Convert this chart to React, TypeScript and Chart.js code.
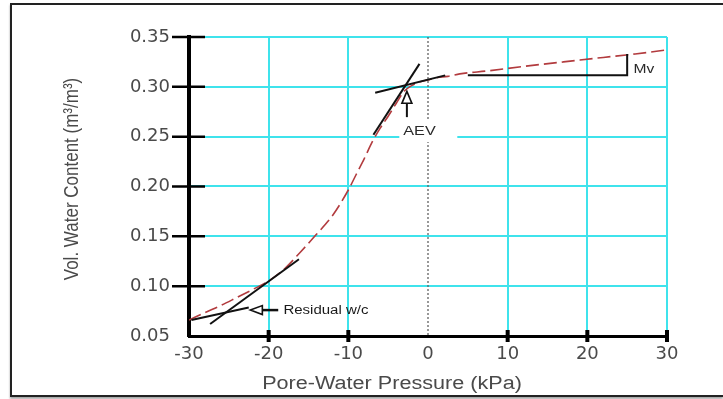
import React, { useEffect, useRef } from "react";
import { Chart, registerables } from "chart.js";

Chart.register(...registerables);

// Soil-water characteristic curve (pore-water pressure in kPa vs volumetric water content)
const pressure = [-30, -28, -26, -24, -22, -20, -18, -16, -14, -12, -10, -9, -8, -7, -6, -5, -4, -3, -2, -1, 0, 1, 2.5, 4, 7.5, 12, 17, 22, 26, 30];
const waterContent = [0.066, 0.0735, 0.0806, 0.0886, 0.0967, 0.1052, 0.1175, 0.1343, 0.152, 0.1707, 0.1965, 0.2123, 0.228, 0.2447, 0.2585, 0.2705, 0.2833, 0.2955, 0.3015, 0.305, 0.307, 0.309, 0.3105, 0.313, 0.316, 0.3205, 0.325, 0.3295, 0.333, 0.337];

const xTicks = [-30, -20, -10, 0, 10, 20, 30];
const yTicks = [0.05, 0.1, 0.15, 0.2, 0.25, 0.3, 0.35];

// Construction lines
const residualSteepX = [-27.35, -16.2];
const residualSteepY = [0.062, 0.127];
const residualFlatX = [-29.7, -22.5];
const residualFlatY = [0.066, 0.0785];
const aevSteepX = [-6.85, -1.07];
const aevSteepY = [0.252, 0.323];
const aevFlatX = [-6.63, 2.16];
const aevFlatY = [0.294, 0.3115];
const mvX = [5, 25, 25];
const mvY = [0.3115, 0.3115, 0.333];

// Arrows (tip / tail in data units)
const residualArrow = { tipX: -22.3, tailX: -18.8, y: 0.076 };
const aevArrow = { x: -2.65, tipY: 0.2955, tailY: 0.2696 };

// Annotation labels
const labelTexts = ["Residual w/c", "AEV", "Mv"];
const labelX = [-18.15, -3.1, 25.8];
const labelY = [0.076, 0.2556, 0.3175];

const xTitle = "Pore-Water Pressure (kPa)";
const yTitle = "Vol. Water Content (m³/m³)";

const zip = (xs: number[], ys: number[]) => xs.map((x, i) => ({ x, y: ys[i] }));

function drawStretched(ctx: CanvasRenderingContext2D, text: string, x: number, y: number, font: string, color: string, align: CanvasTextAlign, baseline: CanvasTextBaseline, sx: number) {
  ctx.save();
  ctx.font = font;
  ctx.fillStyle = color;
  ctx.textAlign = align;
  ctx.textBaseline = baseline;
  ctx.translate(x, y);
  ctx.scale(sx, 1);
  ctx.fillText(text, 0, 0);
  ctx.restore();
}

const overlayPlugin = {
  id: "overlay",
  beforeDatasetsDraw(chart: any) {
    const { ctx, chartArea, scales } = chart;
    const px = scales.x.getPixelForValue(0);
    ctx.save();
    ctx.strokeStyle = "#555";
    ctx.lineWidth = 1.2;
    ctx.setLineDash([2, 2]);
    ctx.beginPath();
    ctx.moveTo(px, chartArea.top);
    ctx.lineTo(px, chartArea.bottom);
    ctx.stroke();
    ctx.restore();
  },
  afterDatasetsDraw(chart: any) {
    const { ctx, scales } = chart;
    const x = scales.x;
    const y = scales.y;
    ctx.save();
    // AEV label background box
    const ax = x.getPixelForValue(labelX[1]);
    const ay = y.getPixelForValue(labelY[1]);
    ctx.fillStyle = "#fff";
    ctx.fillRect(ax - 4, ay - 11, 58, 22);

    // Residual arrow
    const tip = x.getPixelForValue(residualArrow.tipX);
    const tail = x.getPixelForValue(residualArrow.tailX);
    const ry = y.getPixelForValue(residualArrow.y);
    ctx.strokeStyle = "#111";
    ctx.lineWidth = 2.5;
    ctx.beginPath();
    ctx.moveTo(tip + 12, ry);
    ctx.lineTo(tail, ry);
    ctx.stroke();
    ctx.lineWidth = 1.6;
    ctx.fillStyle = "#fff";
    ctx.beginPath();
    ctx.moveTo(tip, ry);
    ctx.lineTo(tip + 12, ry - 4.5);
    ctx.lineTo(tip + 12, ry + 4.5);
    ctx.closePath();
    ctx.fill();
    ctx.stroke();

    // AEV arrow
    const vx = x.getPixelForValue(aevArrow.x);
    const vtip = y.getPixelForValue(aevArrow.tipY);
    const vtail = y.getPixelForValue(aevArrow.tailY);
    ctx.lineWidth = 2;
    ctx.beginPath();
    ctx.moveTo(vx, vtip + 12);
    ctx.lineTo(vx, vtail);
    ctx.stroke();
    ctx.lineWidth = 1.6;
    ctx.beginPath();
    ctx.moveTo(vx, vtip);
    ctx.lineTo(vx - 5, vtip + 12);
    ctx.lineTo(vx + 5, vtip + 12);
    ctx.closePath();
    ctx.fill();
    ctx.stroke();
    ctx.restore();

    // Labels
    drawStretched(ctx, labelTexts[0], x.getPixelForValue(labelX[0]), y.getPixelForValue(labelY[0]), '12.5px "Liberation Sans"', "#1a1a1a", "left", "middle", 1.2);
    drawStretched(ctx, labelTexts[1], ax, ay, '13.5px "Liberation Sans"', "#2a2a2a", "left", "middle", 1.2);
    drawStretched(ctx, labelTexts[2], x.getPixelForValue(labelX[2]), y.getPixelForValue(labelY[2]), '13px "Liberation Sans"', "#2a2a2a", "left", "middle", 1.2);
  },
  afterDraw(chart: any) {
    const { ctx, chartArea, scales } = chart;
    const x = scales.x;
    const y = scales.y;
    ctx.save();
    ctx.strokeStyle = "#000";
    ctx.lineWidth = 2.5;
    yTicks.forEach((v) => {
      if (v === yTicks[0]) return;
      const py = y.getPixelForValue(v);
      ctx.beginPath();
      ctx.moveTo(chartArea.left - 17, py);
      ctx.lineTo(chartArea.left + 16, py);
      ctx.stroke();
    });
    ctx.lineWidth = 4;
    xTicks.forEach((v) => {
      if (v === xTicks[0] || v === 0) return;
      const px = x.getPixelForValue(v);
      ctx.beginPath();
      ctx.moveTo(px, chartArea.bottom - 6);
      ctx.lineTo(px, chartArea.bottom + 6);
      ctx.stroke();
    });
    ctx.restore();

    // Axis titles
    drawStretched(ctx, xTitle, 392, 389, '18px "Liberation Sans"', "#4a4a4a", "center", "alphabetic", 1.2);
    ctx.save();
    ctx.translate(78, 179);
    ctx.rotate(-Math.PI / 2);
    ctx.scale(1, 1.2);
    ctx.font = '17px "Liberation Sans"';
    ctx.fillStyle = "#4a4a4a";
    ctx.textAlign = "center";
    ctx.textBaseline = "alphabetic";
    ctx.fillText(yTitle, 0, 0);
    ctx.restore();
  },
};

const GRID = "#3fe3ec";

export default function App() {
  const ref = useRef<HTMLCanvasElement | null>(null);
  useEffect(() => {
    if (!ref.current) return;
    const lineDs = (xs: number[], ys: number[]) => ({
      data: zip(xs, ys),
      borderColor: "#111",
      borderWidth: 2,
      pointRadius: 0,
      tension: 0,
      fill: false,
      order: 0,
    });
    const chart = new Chart(ref.current, {
      type: "line",
      data: {
        datasets: [
          lineDs(residualSteepX, residualSteepY),
          lineDs(residualFlatX, residualFlatY),
          lineDs(aevSteepX, aevSteepY),
          lineDs(aevFlatX, aevFlatY),
          lineDs(mvX, mvY),
          {
            data: zip(pressure, waterContent),
            borderColor: "#b23b3e",
            borderWidth: 1.6,
            borderDash: [13, 5],
            pointRadius: 0,
            cubicInterpolationMode: "monotone",
            fill: false,
            order: 5,
          },
        ],
      },
      options: {
        animation: false,
        responsive: false,
        layout: { padding: { top: 37, right: 56, left: 0, bottom: 0 } },
        plugins: { legend: { display: false }, tooltip: { enabled: false } },
        scales: {
          x: {
            type: "linear",
            min: -30,
            max: 30,
            afterFit: (s: any) => {
              s.height = 63;
            },
            afterBuildTicks: (s: any) => {
              s.ticks = xTicks.map((v) => ({ value: v }));
            },
            ticks: {
              color: "#4a4a4a",
              font: { family: '"DejaVu Sans"', size: 18 },
              padding: 8,
              maxRotation: 0,
            },
            grid: {
              drawTicks: false,
              lineWidth: 2,
              color: (c: any) => (c.tick && c.tick.value === 0 ? "rgba(0,0,0,0)" : GRID),
            },
            border: { color: "#000", width: 3 },
          },
          y: {
            type: "linear",
            min: 0.05,
            max: 0.35,
            afterFit: (s: any) => {
              s.width = 189;
            },
            afterBuildTicks: (s: any) => {
              s.ticks = yTicks.map((v) => ({ value: v }));
            },
            ticks: {
              color: "#4a4a4a",
              font: { family: '"DejaVu Sans"', size: 18 },
              padding: 19,
              callback: (v: any) => Number(v).toFixed(2),
            },
            grid: { drawTicks: false, lineWidth: 2, color: GRID },
            border: { color: "#000", width: 4 },
          },
        },
      },
      plugins: [overlayPlugin],
    } as any);
    return () => chart.destroy();
  }, []);

  return (
    <div style={{ position: "fixed", left: 0, top: 0, width: 723, height: 399, overflow: "hidden", background: "#fff" }}>
      <div
        style={{
          position: "absolute",
          left: 10,
          top: 3,
          width: 713,
          height: 394,
          boxSizing: "border-box",
          borderLeft: "2px solid #222",
          borderTop: "2px solid #222",
          borderBottom: "2px solid #222",
          boxShadow: "0px 2px 2px rgba(0,0,0,0.35)",
        }}
      />
      <canvas ref={ref} width={723} height={399} style={{ position: "absolute", left: 0, top: 0 }} />
    </div>
  );
}
